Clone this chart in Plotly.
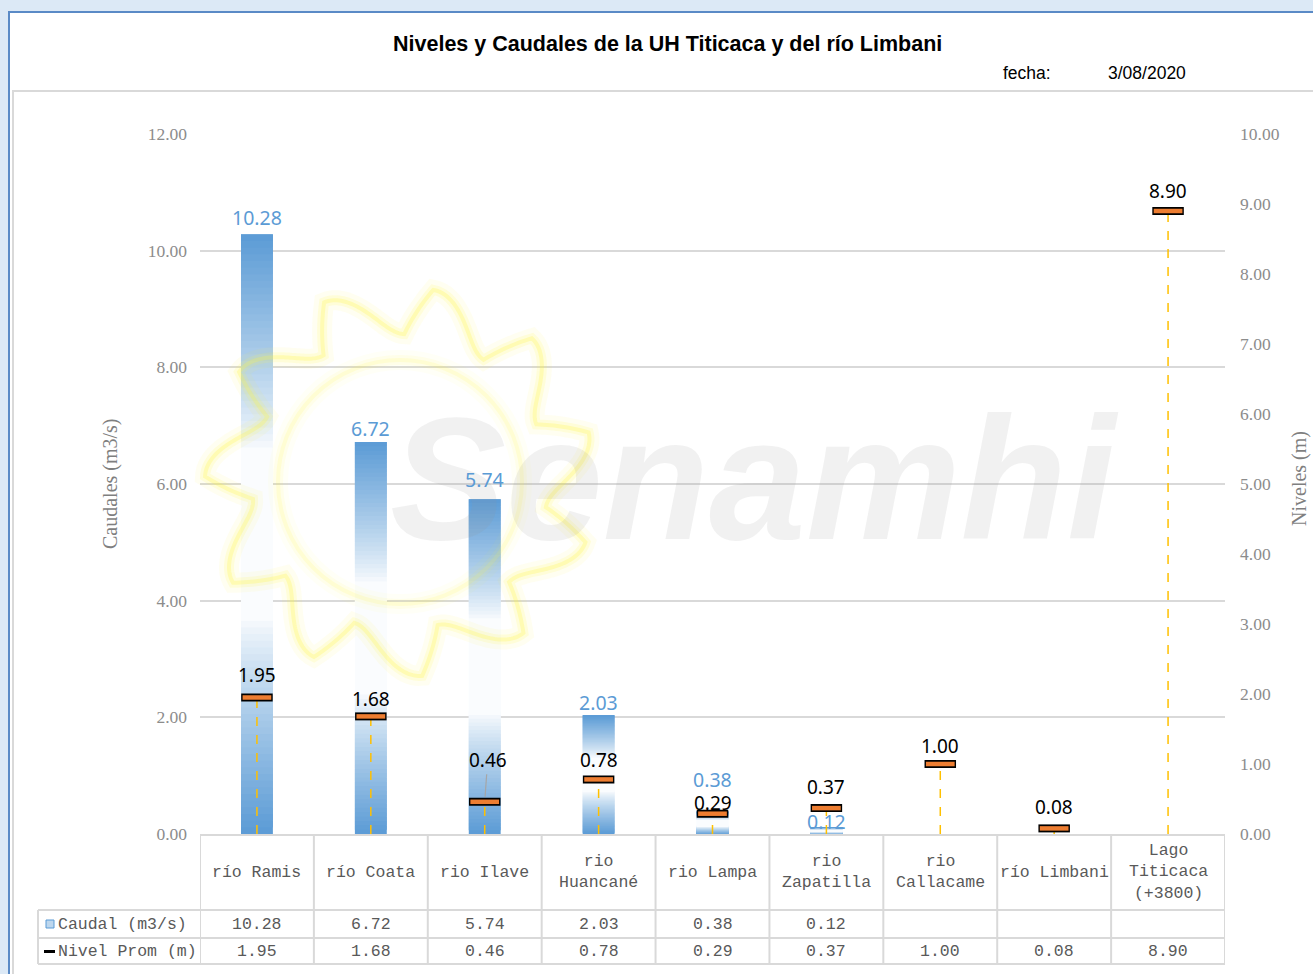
import math
import plotly.graph_objects as go

# ---------------- data ----------------
categorias = ["río Ramis", "río Coata", "rio Ilave", "rio Huancané", "rio Lampa",
              "rio Zapatilla", "rio Callacame", "río Limbani", "Lago Titicaca (+3800)"]
etiquetas = ["río Ramis", "río Coata", "rio Ilave", "rio<br>Huancané", "rio Lampa",
             "rio<br>Zapatilla", "rio<br>Callacame", "río Limbani", "Lago<br>Titicaca<br>(+3800)"]
caudal = [10.28, 6.72, 5.74, 2.03, 0.38, 0.12, None, None, None]
nivel = [1.95, 1.68, 0.46, 0.78, 0.29, 0.37, 1.00, 0.08, 8.90]
y1_ticks = [0, 2, 4, 6, 8, 10, 12]
y2_ticks = [0, 1, 2, 3, 4, 5, 6, 7, 8, 9, 10]
titulo = "Niveles y Caudales de la UH Titicaca y del río Limbani"
fecha_txt = "3/08/2020"
serie_caudal = "Caudal (m3/s)"
serie_nivel = "Nivel Prom (m)"
titulo_y1 = "Caudales (m3/s)"
titulo_y2 = "Niveles (m)"

# ---------------- style ----------------
W, H = 1313, 974
L, R, T, B = 200, 1225, 134, 834
BLUE = (91, 155, 213)
ORANGE = "#ED7D31"
GRID = "#D9D9D9"
caudal_label_dy = [17, 14, 20, 13, 32, 6, 0, 0, 0]
nivel_label_dy = [23, 17, 42, 19, 11, 21, 18, 21, 20]
TAB_FONT = dict(family="Liberation Mono", size=16.5, color="#595959")
TICK_FONT = dict(family="Liberation Serif", size=17.5, color="#8C8C8C")
LBL_FONT = "Noto Sans"


def px_x(p):
    return (p - L) / (R - L)


def px_y(p):
    return (B - p) / (B - T)


fig = go.Figure()

# ---- Caudal bars (vertical gradient blue-white-blue, drawn as overlapping slices) ----
N = 90
for k in range(N):
    t = (k + 0.5) / N
    f = 0.03 + 0.97 * max(0.0, (abs(2 * t - 1) - 0.28) / 0.72) ** 0.85
    col = tuple(int(round(255 * (1 - f) + c * f)) for c in BLUE)
    fig.add_trace(go.Bar(
        x=categorias,
        y=[min(2.0 / N, 1 - k / N) * v if v is not None else None for v in caudal],
        base=[v * k / N if v is not None else None for v in caudal],
        width=0.28,
        marker=dict(color="rgb(%d,%d,%d)" % col, line=dict(width=0)),
        yaxis="y", showlegend=False, hoverinfo="skip",
    ))
fig.add_trace(go.Bar(x=categorias, y=caudal, width=0.28, name=serie_caudal,
                     marker=dict(color="rgba(0,0,0,0)", line=dict(width=0)),
                     yaxis="y", showlegend=False))

# ---- drop lines for Nivel ----
dx, dy = [], []
for c, v in zip(categorias, nivel):
    dx += [c, c, None]
    dy += [0, v, None]
fig.add_trace(go.Scatter(x=dx, y=dy, mode="lines", yaxis="y2",
                         line=dict(color="#FFC000", width=1.5, dash="dash"),
                         showlegend=False, hoverinfo="skip"))

# ---- Nivel markers (orange bar with black outline) ----
fig.add_trace(go.Scatter(x=categorias, y=nivel, mode="markers", yaxis="y2",
                         marker=dict(symbol="line-ew", size=22.5,
                                     line=dict(color="black", width=8)),
                         showlegend=False, hoverinfo="skip"))
fig.add_trace(go.Scatter(x=categorias, y=nivel, mode="markers", yaxis="y2",
                         name=serie_nivel,
                         marker=dict(symbol="line-ew", size=20.5,
                                     line=dict(color=ORANGE, width=4.5)),
                         showlegend=False))

ann = []
shapes = []

# ---- background frame ----
shapes.append(dict(type="rect", xref="paper", yref="paper",
                   x0=px_x(9), x1=px_x(W + 20), y0=px_y(H + 20), y1=px_y(12),
                   fillcolor="white", line=dict(color="#5A8AC6", width=2), layer="below"))
shapes.append(dict(type="rect", xref="paper", yref="paper",
                   x0=px_x(13), x1=px_x(W + 20), y0=px_y(H + 20), y1=px_y(91),
                   fillcolor="rgba(0,0,0,0)", line=dict(color="#D9D9D9", width=2), layer="below"))

# ---- Senamhi watermark ----
cx, cy = 400, 482
pts = []
nr = 11
M = 660
for i in range(M + 1):
    th = 2 * math.pi * i / M
    p = (th * nr / (2 * math.pi) + 0.3) % 1.0
    if p < 0.75:
        s = math.sin(p / 0.75 * math.pi / 2) ** 2
    else:
        s = 1 - (p - 0.75) / 0.25
    r = 148 + 47 * s
    pts.append((cx + r * math.cos(th), cy - r * math.sin(th)))
path = "M " + " L ".join("%.5f,%.5f" % (px_x(a), px_y(b)) for a, b in pts) + " Z"
for w, a, ac in [(20, 0.07, 0.04), (10, 0.13, 0.07), (4, 0.24, 0.12)]:
    shapes.append(dict(type="path", xref="paper", yref="paper", path=path,
                       line=dict(color="rgba(255,245,60,%.2f)" % a, width=w), layer="above"))
    shapes.append(dict(type="circle", xref="paper", yref="paper",
                       x0=px_x(cx - 122), x1=px_x(cx + 122), y0=px_y(cy + 122), y1=px_y(cy - 122),
                       line=dict(color="rgba(255,245,60,%.2f)" % ac, width=w), layer="above"))
ann.append(dict(text="Senamhi", xref="paper", yref="paper", x=px_x(754), y=px_y(478),
                showarrow=False, xanchor="center", yanchor="middle",
                font=dict(family="Liberation Sans", size=174, weight="bold", style="italic",
                          color="rgba(150,150,150,0.13)")))

# ---- data labels ----
for c, v, d in zip(categorias, caudal, caudal_label_dy):
    if v is None:
        continue
    ann.append(dict(x=c, y=v, xref="x", yref="y", text="%.2f" % v, showarrow=False,
                    yanchor="middle", yshift=d,
                    font=dict(family=LBL_FONT, size=19.5, color="#5B9BD5")))
for i, (c, v, d) in enumerate(zip(categorias, nivel, nivel_label_dy)):
    if i == 2:
        ann.append(dict(x=c, y=v, xref="x", yref="y2", text="%.2f" % v, showarrow=True,
                        arrowhead=0, arrowwidth=1.2, arrowcolor="#A6A6A6", ax=3, ay=-d,
                        standoff=5, font=dict(family=LBL_FONT, size=19, color="black")))
    else:
        ann.append(dict(x=c, y=v, xref="x", yref="y2", text="%.2f" % v, showarrow=False,
                        yanchor="middle", yshift=d,
                        font=dict(family=LBL_FONT, size=19, color="black")))

# ---- titles ----
ann.append(dict(text="<b>%s</b>" % titulo, xref="paper", yref="paper", x=px_x(667), y=px_y(44),
                showarrow=False, xanchor="center", yanchor="middle",
                font=dict(family="Liberation Sans", size=21.5, color="black")))
ann.append(dict(text="fecha:", xref="paper", yref="paper", x=px_x(1001), y=px_y(73),
                showarrow=False, xanchor="left", yanchor="middle",
                font=dict(family="Liberation Sans", size=17.5, color="black")))
ann.append(dict(text=fecha_txt, xref="paper", yref="paper", x=px_x(1188), y=px_y(73),
                showarrow=False, xanchor="right", yanchor="middle",
                font=dict(family="Liberation Sans", size=17.5, color="black")))
ann.append(dict(text=titulo_y1, xref="paper", yref="paper", x=px_x(110), y=px_y(484),
                showarrow=False, textangle=-90, xanchor="center", yanchor="middle",
                font=dict(family="Liberation Serif", size=20, color="#7F7F7F")))
ann.append(dict(text=titulo_y2, xref="paper", yref="paper", x=px_x(1299), y=px_y(479),
                showarrow=False, textangle=-90, xanchor="center", yanchor="middle",
                font=dict(family="Liberation Serif", size=20, color="#7F7F7F")))

# ---- data table ----
y_cat, y_c, y_n = px_y(872), px_y(924), px_y(951)
for i, (c, lab) in enumerate(zip(categorias, etiquetas)):
    ann.append(dict(x=c, y=y_cat, xref="x", yref="paper", text=lab, showarrow=False,
                    xanchor="center", yanchor="middle", font=TAB_FONT))
    if caudal[i] is not None:
        ann.append(dict(x=c, y=y_c, xref="x", yref="paper", text="%.2f" % caudal[i],
                        showarrow=False, xanchor="center", yanchor="middle", font=TAB_FONT))
    if nivel[i] is not None:
        ann.append(dict(x=c, y=y_n, xref="x", yref="paper", text="%.2f" % nivel[i],
                        showarrow=False, xanchor="center", yanchor="middle", font=TAB_FONT))
ann.append(dict(x=px_x(56), y=y_c, xref="paper", yref="paper", text=serie_caudal,
                showarrow=False, xanchor="left", yanchor="middle", font=TAB_FONT))
ann.append(dict(x=px_x(56), y=y_n, xref="paper", yref="paper", text=serie_nivel,
                showarrow=False, xanchor="left", yanchor="middle", font=TAB_FONT))
# legend keys
shapes.append(dict(type="rect", xref="paper", yref="paper", x0=px_x(46), x1=px_x(54),
                   y0=px_y(928), y1=px_y(920), fillcolor="#BDD7EE",
                   line=dict(color="#5B9BD5", width=1)))
shapes.append(dict(type="rect", xref="paper", yref="paper", x0=px_x(44), x1=px_x(55),
                   y0=px_y(953), y1=px_y(950), fillcolor="black", line=dict(width=0)))
# table grid
for yy in [910, 938, 964]:
    shapes.append(dict(type="line", xref="paper", yref="paper", x0=px_x(38), x1=1,
                       y0=px_y(yy), y1=px_y(yy), line=dict(color=GRID, width=2)))
shapes.append(dict(type="line", xref="paper", yref="paper", x0=px_x(38), x1=px_x(38),
                   y0=px_y(910), y1=px_y(964), line=dict(color=GRID, width=2)))
for i in range(len(categorias) + 1):
    shapes.append(dict(type="line", xref="x", yref="paper", x0=i - 0.5, x1=i - 0.5,
                       y0=0, y1=px_y(964), line=dict(color=GRID, width=2)))

fig.update_layout(
    width=W, height=H,
    margin=dict(l=L, r=W - R, t=T, b=H - B, pad=0),
    paper_bgcolor="#DCE9F6",
    plot_bgcolor="rgba(0,0,0,0)",
    barmode="overlay",
    showlegend=False,
    xaxis=dict(type="category", categoryorder="array", categoryarray=categorias,
               range=[-0.5, len(categorias) - 0.5], showticklabels=False, ticks="",
               showgrid=False, zeroline=False, showline=True, linecolor=GRID, linewidth=2),
    yaxis=dict(range=[0, 12], tickvals=y1_ticks, tickformat=".2f", showgrid=True,
               gridcolor=GRID, gridwidth=1.5, zeroline=False, showline=False, ticks="",
               tickfont=TICK_FONT, ticklabelstandoff=12),
    yaxis2=dict(range=[0, 10], tickvals=y2_ticks, tickformat=".2f", overlaying="y",
                side="right", showgrid=False, zeroline=False, showline=False, ticks="",
                tickfont=TICK_FONT, ticklabelstandoff=14),
    annotations=ann,
    shapes=shapes,
)

fig.write_html("out.html", config={"displayModeBar": False},
               post_script="document.body.style.margin='0px';document.body.style.overflow='hidden';")
